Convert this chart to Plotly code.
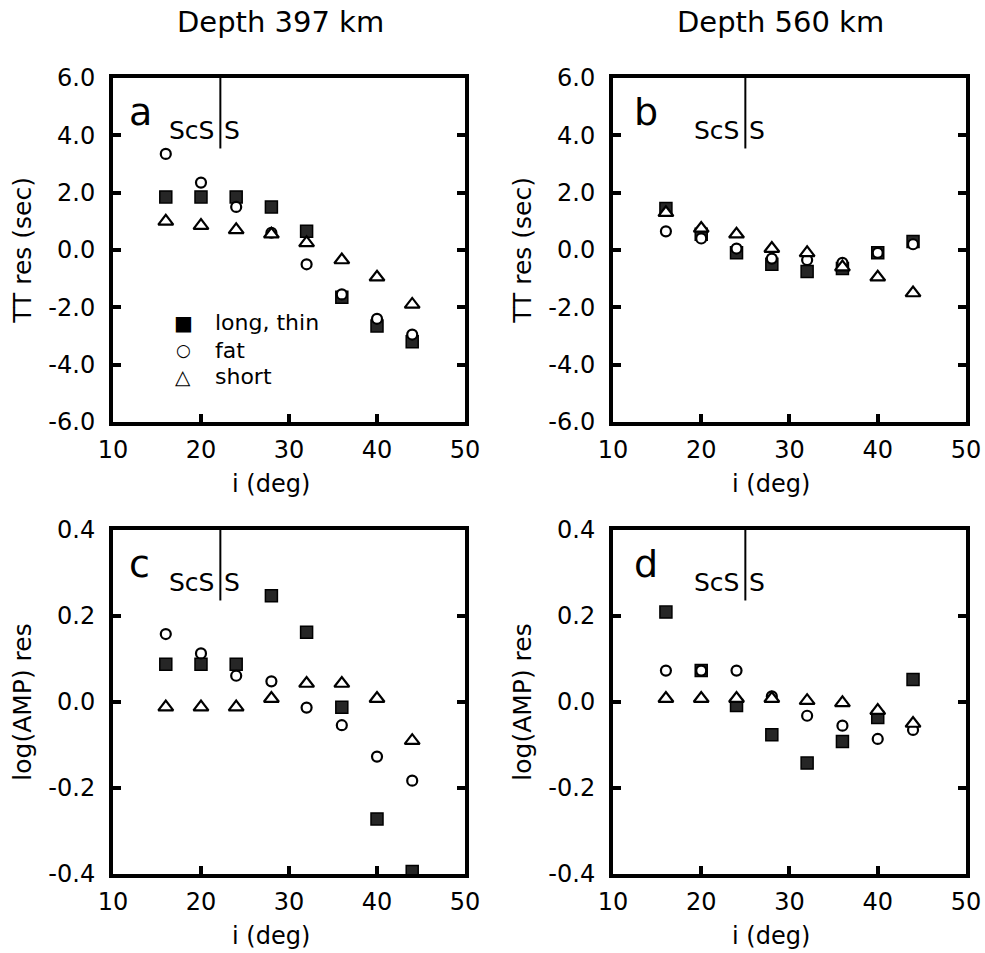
"""ScS / S 走時・振幅残差の4パネル図 (深さ 397 km / 560 km)."""

import plotly.graph_objects as go

# 入射角 (deg)
incidence = [16, 20, 24, 28, 32, 36, 40, 44]

# (a) 深さ 397 km, 走時残差 (sec)
tt_397_long = [1.85, 1.85, 1.85, 1.5, 0.65, -1.65, -2.65, -3.2]
tt_397_fat = [3.35, 2.35, 1.5, 0.6, -0.5, -1.55, -2.4, -2.95]
tt_397_short = [1.0, 0.85, 0.7, 0.55, 0.25, -0.35, -0.95, -1.9]

# (b) 深さ 560 km, 走時残差 (sec)
tt_560_long = [1.45, 0.55, -0.1, -0.5, -0.75, -0.65, -0.1, 0.3]
tt_560_fat = [0.65, 0.4, 0.05, -0.3, -0.35, -0.45, -0.1, 0.2]
tt_560_short = [1.3, 0.75, 0.55, 0.05, -0.1, -0.6, -0.95, -1.5]

# (c) 深さ 397 km, log(AMP) 残差
amp_397_long = [0.088, 0.088, 0.088, 0.247, 0.162, -0.012, -0.272, -0.394]
amp_397_fat = [0.158, 0.113, 0.061, 0.048, -0.013, -0.054, -0.127, -0.183]
amp_397_short = [-0.012, -0.012, -0.012, 0.008, 0.043, 0.043, 0.008, -0.09]

# (d) 深さ 560 km, log(AMP) 残差
amp_560_long = [0.209, 0.073, -0.008, -0.076, -0.142, -0.092, -0.036, 0.052]
amp_560_fat = [0.073, 0.073, 0.073, 0.013, -0.032, -0.055, -0.086, -0.065]
amp_560_short = [0.008, 0.008, 0.008, 0.008, 0.003, -0.002, -0.02, -0.05]

series_names = ["long, thin", "fat", "short"]
legend_glyphs = ["■", "○", "△"]
panel_letters = ["a", "b", "c", "d"]
depth_titles = ["Depth 397 km", "Depth 560 km"]
scs_s_boundary = [22.2, 25.0]  # ScS | S の境界 (deg)

x_tick_values = [10, 20, 30, 40, 50]
x_tick_labels = ["10", "20", "30", "40", "50"]
tt_tick_values = [-6, -4, -2, 0, 2, 4, 6]
tt_tick_labels = ["-6.0", "-4.0", "-2.0", "0.0", "2.0", "4.0", "6.0"]
amp_tick_values = [-0.4, -0.2, 0.0, 0.2, 0.4]
amp_tick_labels = ["-0.4", "-0.2", "0.0", "0.2", "0.4"]

FONT = "DejaVu Sans"
X_DOMAINS = [[0.1147, 0.4721], [0.6223, 0.9807]]
Y_DOMAINS = [[0.5572, 0.9182], [0.0829, 0.4439]]

MARKERS = {
    "long, thin": dict(symbol="square", size=12, color="#262626", line=dict(color="black", width=1.5)),
    "fat": dict(symbol="circle", size=10, color="white", line=dict(color="black", width=2.2)),
    "short": dict(symbol="triangle-up", size=13, color="white", line=dict(color="black", width=2.2)),
}


def text(fig: go.Figure, label: str, size: int, **kwargs) -> None:
    fig.add_annotation(text=label, showarrow=False, font=dict(family=FONT, size=size, color="black"), **kwargs)


def add_panel(fig: go.Figure, index: int, values: list[list[float]]) -> None:
    suffix = "" if index == 0 else str(index + 1)
    xref, yref = f"x{suffix}", f"y{suffix}"
    for name, y in zip(series_names, values):
        fig.add_trace(
            go.Scatter(
                x=incidence,
                y=y,
                mode="markers",
                name=name,
                marker=MARKERS[name],
                showlegend=False,
                xaxis=xref,
                yaxis=yref,
            )
        )

    boundary = scs_s_boundary[index % 2]
    fig.add_shape(
        type="line",
        xref=xref,
        yref=f"{yref} domain",
        x0=boundary,
        x1=boundary,
        y0=0.795,
        y1=1.0,
        line=dict(color="black", width=2),
    )
    label_pos = dict(xref=xref, yref=f"{yref} domain", x=boundary, y=0.848, yanchor="middle")
    text(fig, "ScS", 25, xanchor="right", xshift=-4, **label_pos)
    text(fig, "S", 25, xanchor="left", xshift=2, **label_pos)
    text(
        fig,
        panel_letters[index],
        38,
        xref=f"{xref} domain",
        yref=f"{yref} domain",
        x=0.04 if index % 2 == 0 else 0.055,
        y=0.9,
        xanchor="left",
        yanchor="middle",
    )
    text(
        fig,
        "i (deg)",
        24,
        xref=f"{xref} domain",
        yref=f"{yref} domain",
        x=0.449,
        y=-0.18,
        xanchor="center",
        yanchor="middle",
    )

    is_tt = index < 2
    axis_common = dict(
        showline=True,
        linewidth=4,
        linecolor="black",
        ticks="inside",
        tickwidth=4,
        ticklen=8,
        tickcolor="black",
        showgrid=False,
        zeroline=False,
        automargin=False,
        tickfont=dict(family=FONT, size=24, color="black"),
        title_font=dict(family=FONT, size=25, color="black"),
    )
    fig.update_layout(
        {
            f"xaxis{suffix}": dict(
                axis_common,
                domain=X_DOMAINS[index % 2],
                anchor=yref,
                range=[10, 50],
                tickvals=x_tick_values,
                ticktext=x_tick_labels,
                mirror=True,
                ticklabelstandoff=3,
                ticklabeloverflow="allow",
            ),
            f"yaxis{suffix}": dict(
                axis_common,
                domain=Y_DOMAINS[index // 2],
                anchor=xref,
                range=[-6, 6] if is_tt else [-0.4, 0.4],
                tickvals=tt_tick_values if is_tt else amp_tick_values,
                ticktext=tt_tick_labels if is_tt else amp_tick_labels,
                mirror="ticks",
                title=dict(text="TT res (sec)" if is_tt else "log(AMP) res", standoff=11),
                ticklabelstandoff=9,
            ),
        }
    )


fig = go.Figure()
panels = [
    [tt_397_long, tt_397_fat, tt_397_short],
    [tt_560_long, tt_560_fat, tt_560_short],
    [amp_397_long, amp_397_fat, amp_397_short],
    [amp_560_long, amp_560_fat, amp_560_short],
]
for i, values in enumerate(panels):
    add_panel(fig, i, values)

# 凡例 (パネル a 内)
for glyph, name, y, size in zip(legend_glyphs, series_names, [0.288, 0.209, 0.131], [20, 17, 20]):
    text(fig, glyph, size, xref="x domain", yref="y domain", x=0.199, y=y, xanchor="center", yanchor="middle")
    text(fig, name, 22, xref="x domain", yref="y domain", x=0.284, y=y, xanchor="left", yanchor="middle")

for title, x in zip(depth_titles, [0.2843, 0.7919]):
    text(fig, title, 29, xref="paper", yref="paper", x=x, y=1.0, yshift=-3, xanchor="center", yanchor="top")

fig.update_layout(
    width=985,
    height=953,
    margin=dict(l=0, r=0, t=0, b=0),
    paper_bgcolor="white",
    plot_bgcolor="white",
    font=dict(family=FONT, color="black"),
    showlegend=False,
)

# ページ既定の body 余白を消して、図をウィンドウ全体に合わせる
fig.write_html(
    "out.html",
    config={"displayModeBar": False},
    post_script="document.body.style.margin = '0';",
)
